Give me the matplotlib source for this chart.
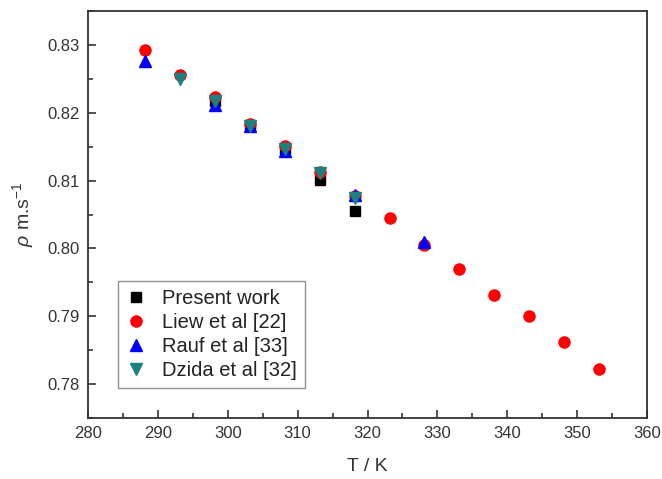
import matplotlib
matplotlib.use("Agg")
import matplotlib.pyplot as plt
from matplotlib.ticker import MultipleLocator

plt.rcParams['font.family'] = ['Liberation Sans', 'DejaVu Sans']
plt.rcParams['mathtext.fontset'] = 'custom'
plt.rcParams['mathtext.rm'] = 'Liberation Sans'
plt.rcParams['mathtext.it'] = 'Liberation Sans:italic'

# present work (points under the literature data included)
t_present = [298.15, 303.15, 308.15, 313.15, 318.15]
rho_present = [0.8218, 0.8182, 0.8147, 0.8101, 0.8055]

t_liew = [288.15, 293.15, 298.15, 303.15, 308.15, 313.15, 318.15,
          323.15, 328.15, 333.15, 338.15, 343.15, 348.15, 353.15]
rho_liew = [0.8292, 0.8256, 0.8223, 0.8184, 0.8151, 0.8113, 0.8077,
            0.8045, 0.8005, 0.7970, 0.7931, 0.7901, 0.7862, 0.7822]

t_rauf = [288.15, 298.15, 303.15, 308.15, 318.15, 328.15]
rho_rauf = [0.8276, 0.8212, 0.8181, 0.8144, 0.8079, 0.8010]

t_dzida = [293.15, 298.15, 303.15, 308.15, 313.15, 318.15]
rho_dzida = [0.8250, 0.8217, 0.8181, 0.8147, 0.8111, 0.8075]

fig = plt.figure(figsize=(6.62, 4.79), dpi=100)
ax = fig.add_axes([88/662, 1 - 418/479, 559/662, 407/479])

ax.plot(t_present, rho_present, 's', color='black', ms=6.5, mec='black', label='Present work')
ax.plot(t_liew, rho_liew, 'o', color='#ff0000', ms=8, mec='#ff0000', label='Liew et al [22]')
ax.plot(t_rauf, rho_rauf, '^', color='#0000ff', ms=8, mec='#0000ff', label='Rauf et al [33]')
ax.plot(t_dzida, rho_dzida, 'v', color='#1b8080', ms=8, mec='#1b8080', label='Dzida et al [32]')

ax.set_xlim(280, 360)
ax.set_ylim(0.775, 0.835)
ax.xaxis.set_major_locator(MultipleLocator(10))
ax.xaxis.set_minor_locator(MultipleLocator(5))
ax.yaxis.set_major_locator(MultipleLocator(0.01))
ax.yaxis.set_minor_locator(MultipleLocator(0.005))
ax.yaxis.set_major_formatter(matplotlib.ticker.FormatStrFormatter('%.2f'))
ax.tick_params(which='both', direction='in', top=False, right=False,
               labelsize=12, colors='#333333', labelcolor='#333333')
ax.tick_params(which='major', length=6, width=1.2, pad=6)
ax.tick_params(which='minor', length=3.5, width=1.2)
for s in ax.spines.values():
    s.set_linewidth(1.3)
    s.set_color('#333333')

ax.set_xlabel('T / K', fontsize=14, color='#333333', labelpad=12)
ax.set_ylabel(r'$\rho$ m.s$^{-1}$', fontsize=14, color='#333333', labelpad=8)

leg = ax.legend(loc='lower left', bbox_to_anchor=(0.054, 0.074), fontsize=14.5,
                frameon=True, fancybox=False, handlelength=1.0, handletextpad=0.8,
                labelspacing=0.25, borderpad=0.4, borderaxespad=0)
leg.get_frame().set_edgecolor('#777777')
leg.get_frame().set_linewidth(1.0)
for txt in leg.get_texts():
    txt.set_color('#222222')

fig.savefig('out.png', dpi=100)
